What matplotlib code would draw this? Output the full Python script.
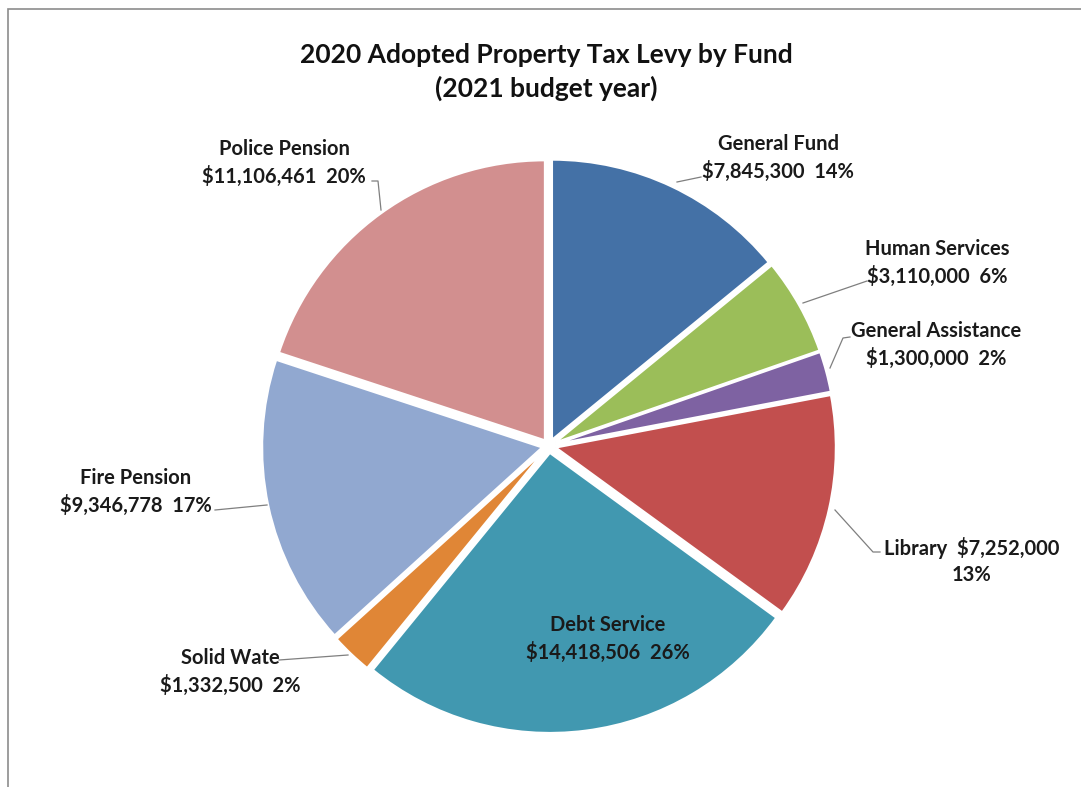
import matplotlib.pyplot as plt
from matplotlib.patches import Rectangle

funds = ['General Fund', 'Human Services', 'General Assistance', 'Library',
         'Debt Service', 'Solid Wate', 'Fire Pension', 'Police Pension']
levy = [7845300, 3110000, 1300000, 7252000, 14418506, 1332500, 9346778, 11106461]
pct_labels = ['14%', '6%', '2%', '13%', '26%', '2%', '17%', '20%']
colors = ['#4471A6', '#9BBE59', '#7E62A2', '#C24F4E',
          '#4198B0', '#E08636', '#91A8D0', '#D28F8F']

W, H = 1081, 787
fig = plt.figure(figsize=(W / 100, H / 100), dpi=100)
ax = fig.add_axes([0, 0, 1, 1])

# chart frame (only top and left edges fall inside the image)
ax.add_patch(Rectangle((8, -20), W + 40, H - 9 + 20, fill=False,
                       edgecolor='#8c8c8c', linewidth=1.2))

cx, cy, r = 549, H - 446, 280
# explode is in data units here (pixels)
ax.pie(levy, colors=colors, startangle=90, counterclock=False,
       explode=[7] * len(levy), center=(cx, cy), radius=r,
       wedgeprops=dict(linewidth=1.5, edgecolor='white'), frame=True)
ax.set_xlim(0, W)
ax.set_ylim(0, H)
ax.set_aspect('equal')
ax.axis('off')

fnt = dict(family=['Lato', 'DejaVu Sans'], fontweight='bold', fontsize=14.5,
           color='#1a1a1a', ha='center', va='center', linespacing=1.4)

def money(v):
    return '${:,}'.format(v)

# label text, centre of the text block (x, y from top)
label_pos = {
    'General Fund': (778, 158),
    'Human Services': (937, 263),
    'General Assistance': (936, 345),
    'Library': (972, 561),
    'Debt Service': (608, 639),
    'Solid Wate': (230, 672),
    'Fire Pension': (136, 492),
    'Police Pension': (284, 163),
}
for name, v, p in zip(funds, levy, pct_labels):
    x, y = label_pos[name]
    if name == 'Library':
        txt = f'{name}  {money(v)}\n{p}'
    else:
        txt = f'{name}\n{money(v)}  {p}'
    ax.text(x, H - y, txt, **fnt)

# leader lines
leaders = [
    [(701, 177), (677, 182)],
    [(867, 281), (803, 303)],
    [(850, 337), (843, 338), (830, 368)],
    [(880, 552), (873, 552), (835, 510)],
    [(215, 510), (267, 505)],
    [(279, 660), (348, 655)],
    [(372, 181), (378, 181), (381, 210)],
]
for pts in leaders:
    ax.plot([p[0] for p in pts], [H - p[1] for p in pts],
            color='#7f7f7f', linewidth=0.9)

for yy, t in [(55, '2020 Adopted Property Tax Levy by Fund'),
              (88, '(2021 budget year)')]:
    ax.text(546, H - yy, t, family=['Lato', 'DejaVu Sans'], fontweight='bold',
            fontsize=19, color='#111111', ha='center', va='center')

fig.savefig('out.png', dpi=100)
